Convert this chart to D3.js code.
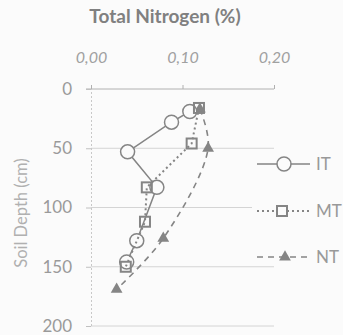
<!DOCTYPE html>
<html><head><meta charset="utf-8">
<script src="https://cdn.jsdelivr.net/npm/d3@7"></script>
<style>body{margin:0;background:#fbfbfb}svg{display:block}</style>
</head><body>
<svg id="c" width="343" height="335"></svg>
<script>
const seriesNames = ["IT", "MT", "NT"];
const itN = [0.108, 0.088, 0.040, 0.072, 0.050, 0.039];
const itDepth = [19, 28, 53, 83, 128, 146];
const mtN = [0.118, 0.110, 0.061, 0.059, 0.038];
const mtDepth = [16, 46, 83, 112, 150];
const ntN = [0.119, 0.128, 0.079, 0.028];
const ntDepth = [17, 50, 126, 169];
const xTicks = [0, 0.1, 0.2];
const yTicks = [0, 50, 100, 150, 200];

const svg = d3.select("#c");
const x = d3.scaleLinear().domain([0, 0.2]).range([91, 274]);
const y = d3.scaleLinear().domain([0, 200]).range([89, 326]);
const col = "#858585";
const font = "Lato, 'Open Sans', sans-serif";

// gridlines
svg.append("g").selectAll("line").data(yTicks.slice(1)).join("line")
  .attr("x1", x(0)).attr("x2", x(0.2)).attr("y1", d => y(d)).attr("y2", d => y(d))
  .attr("stroke", "#d4d4d4").attr("stroke-width", 1);

// top axis
const xAxis = d3.axisTop(x).tickValues(xTicks).tickSize(4).tickFormat(d => d3.format(".2f")(d).replace(".", ","));
const gx = svg.append("g").attr("transform", `translate(0,${y(0)})`).call(xAxis);
gx.select(".domain").attr("stroke", "#b0b0b0").attr("d", `M${x(0)-5},0H${x(0.2)}`);
gx.selectAll(".tick line").attr("stroke", "#b0b0b0");
gx.selectAll(".tick text").attr("y", -26).attr("fill", "#a0a0a0").attr("font-size", 16)
  .attr("font-family", font).attr("font-style", "italic");

// left axis
const yAxis = d3.axisLeft(y).tickValues(yTicks).tickSize(5);
const gy = svg.append("g").attr("transform", `translate(${x(0)},0)`).call(yAxis);
gy.select(".domain").attr("stroke", "#c8c8c8").attr("stroke-dasharray", "2,2");
gy.selectAll(".tick line").attr("stroke", "#c0c0c0");
gy.selectAll(".tick text").attr("x", -19).attr("fill", "#9a9a9a").attr("font-size", 17).attr("font-family", font);

// titles
svg.append("text").attr("x", 165).attr("y", 23).attr("text-anchor", "middle")
  .attr("font-family", font).attr("font-weight", "bold").attr("font-size", 19).attr("fill", "#808080")
  .text("Total Nitrogen (%)");
svg.append("text").attr("transform", "translate(27,213) rotate(-90)").attr("text-anchor", "middle")
  .attr("font-family", font).attr("font-size", 16.5).attr("fill", "#b0b0b0").text("Soil Depth (cm)");

const mk = (ns, ds) => ns.map((n, i) => ({n, d: ds[i]}));
const it = mk(itN, itDepth), mt = mk(mtN, mtDepth), nt = mk(ntN, ntDepth);

const lineS = d3.line().x(p => x(p.n)).y(p => y(p.d));
const lineC = d3.line().x(p => x(p.n)).y(p => y(p.d)).curve(d3.curveCatmullRom.alpha(0.5));

const tri = d3.symbol().type(d3.symbolTriangle).size(60);

// NT
svg.append("path").attr("d", lineC(nt)).attr("fill", "none").attr("stroke", col)
  .attr("stroke-width", 1.6).attr("stroke-dasharray", "6,5");
svg.append("g").selectAll("path").data(nt).join("path").attr("d", tri)
  .attr("transform", p => `translate(${x(p.n)},${y(p.d)})`).attr("fill", col);

// IT
svg.append("path").attr("d", lineS(it)).attr("fill", "none").attr("stroke", col).attr("stroke-width", 1.5);
svg.append("g").selectAll("circle").data(it).join("circle")
  .attr("cx", p => x(p.n)).attr("cy", p => y(p.d)).attr("r", 7)
  .attr("fill", "#fbfbfb").attr("stroke", col).attr("stroke-width", 1.5);

// MT
svg.append("path").attr("d", lineS(mt)).attr("fill", "none").attr("stroke", col)
  .attr("stroke-width", 2).attr("stroke-dasharray", "2,3");
svg.append("g").selectAll("rect").data(mt).join("rect")
  .attr("x", p => x(p.n) - 5).attr("y", p => y(p.d) - 5).attr("width", 10).attr("height", 10)
  .attr("fill", "none").attr("stroke", col).attr("stroke-width", 2);

// legend
svg.append("rect").attr("x", 252).attr("y", 152).attr("width", 91).attr("height", 110).attr("fill", "#fbfbfb");
const leg = svg.append("g");
const ly = [164, 211, 257];
seriesNames.forEach((name, i) => {
  const g = leg.append("g").attr("transform", `translate(0,${ly[i]})`);
  const ln = g.append("line").attr("x1", 257).attr("x2", 310).attr("y1", 0).attr("y2", 0).attr("stroke", col);
  if (i === 0) {
    ln.attr("stroke-width", 1.5);
    g.append("circle").attr("cx", 284).attr("r", 7).attr("fill", "#fbfbfb").attr("stroke", col).attr("stroke-width", 1.5);
  } else if (i === 1) {
    ln.attr("stroke-width", 2).attr("stroke-dasharray", "2,3");
    g.append("rect").attr("x", 277).attr("y", -5).attr("width", 10).attr("height", 10).attr("fill", "#fbfbfb").attr("stroke", col).attr("stroke-width", 2);
  } else {
    ln.attr("stroke-width", 1.6).attr("stroke-dasharray", "6,5");
    g.append("path").attr("d", tri).attr("transform", "translate(285,0)").attr("fill", col);
  }
  g.append("text").attr("x", 316).attr("y", 6).attr("font-family", font).attr("font-size", 17)
    .attr("fill", "#999").text(name);
});
</script>
</body></html>
